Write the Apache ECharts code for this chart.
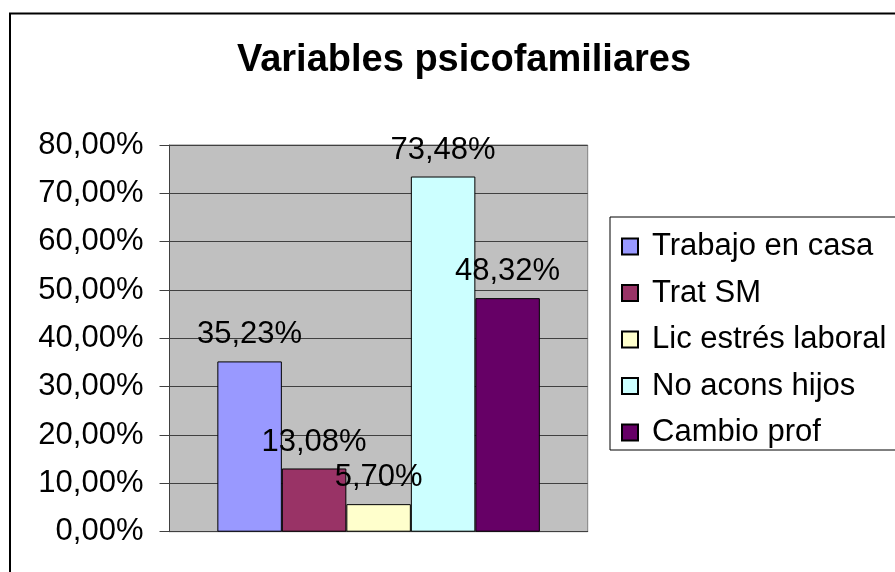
<!DOCTYPE html>
<html>
<head>
<meta charset="utf-8">
<script src="https://cdn.jsdelivr.net/npm/echarts@6/dist/echarts.min.js"></script>
<style>
  html, body { margin: 0; padding: 0; background: #fff; }
  #chart { width: 895px; height: 572px; }
</style>
</head>
<body>
<div id="chart"></div>
<script>
// datos
const titleText = 'Variables psicofamiliares';
const categories = [''];
const seriesNames = ['Trabajo en casa', 'Trat SM', 'Lic estrés laboral', 'No acons hijos', 'Cambio prof'];
const seriesValues = [35.23, 13.08, 5.70, 73.48, 48.32];
const seriesColors = ['#9999FF', '#993366', '#FFFFCC', '#CCFFFF', '#660066'];
const yMin = 0, yMax = 80, yStep = 10;

const fmt = v => v.toFixed(2).replace('.', ',') + '%';
const font = '"Liberation Sans", Arial, sans-serif';

const chart = echarts.init(document.getElementById('chart'), null, { renderer: 'canvas' });

const series = seriesNames.map((name, i) => ({
    name: name,
    type: 'bar',
    data: [seriesValues[i]],
    barWidth: 64.5,
    barGap: '0%',
    itemStyle: { color: seriesColors[i], borderColor: '#000', borderWidth: 1 },
    label: {
        show: true,
        position: 'top',
        distance: 11,
        formatter: p => fmt(p.value),
        color: '#000',
        fontSize: 31,
        fontFamily: font
    }
}));

chart.setOption({
    animation: false,
    backgroundColor: '#fff',
    title: {
        text: titleText,
        left: 459,
        textAlign: 'center',
        top: 37,
        textStyle: { fontSize: 38, fontWeight: 'bold', color: '#000', fontFamily: font }
    },
    legend: {
        orient: 'vertical',
        left: 610,
        top: 217,
        data: seriesNames,
        icon: 'rect',
        itemWidth: 16,
        itemHeight: 16,
        itemGap: 15.5,
        padding: [14, 60, 2, 11],
        borderColor: '#000',
        borderWidth: 1,
        backgroundColor: '#fff',
        selectedMode: false,
        textStyle: { fontSize: 31, lineHeight: 30, color: '#000', fontFamily: font, padding: [0, 0, 0, 9] }
    },
    grid: {
        left: 169.5,
        right: 307.3,
        top: 145,
        bottom: 40.3,
        show: true,
        backgroundColor: '#C0C0C0',
        borderColor: '#808080',
        borderWidth: 1
    },
    xAxis: {
        type: 'category',
        data: categories,
        axisLine: { show: true, lineStyle: { color: '#404040', width: 1 } },
        axisTick: { show: false },
        axisLabel: { show: false }
    },
    yAxis: {
        type: 'value',
        min: yMin,
        max: yMax,
        interval: yStep,
        axisLine: { show: true, lineStyle: { color: '#404040', width: 1 } },
        axisTick: { show: true, inside: false, length: 10, lineStyle: { color: '#404040' } },
        splitLine: { show: true, lineStyle: { color: '#404040', width: 1 } },
        axisLabel: {
            margin: 26,
            formatter: v => fmt(v),
            color: '#000',
            fontSize: 31,
            fontFamily: font
        }
    },
    graphic: [{
        type: 'rect',
        shape: { x: 10, y: 13.5, width: 1000, height: 1000 },
        style: { fill: 'none', stroke: '#000', lineWidth: 2 },
        silent: true,
        z: 100
    }],
    series: series
});
</script>
</body>
</html>
